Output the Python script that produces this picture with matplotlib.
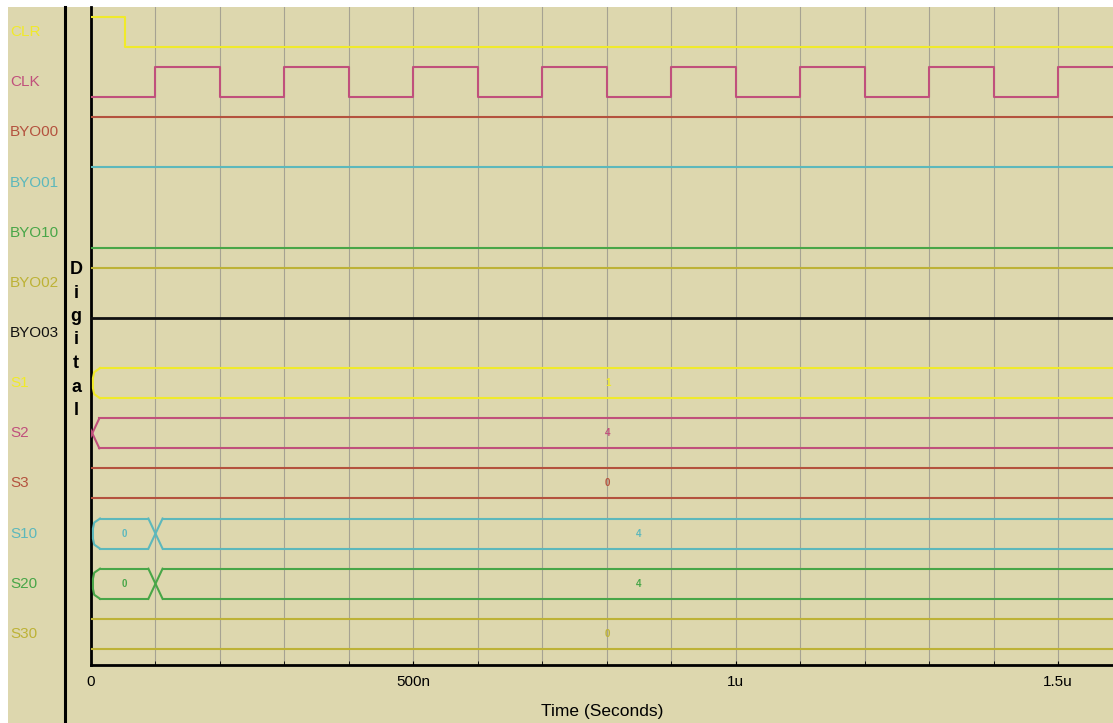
import matplotlib
matplotlib.use('Agg')
import matplotlib.pyplot as plt
import matplotlib.transforms as mtransforms
from matplotlib.patches import Rectangle
from matplotlib.lines import Line2D

# trace names, top to bottom, and their colours
signal_names = ['CLR', 'CLK', 'BYO00', 'BYO01', 'BYO10', 'BYO02', 'BYO03',
                'S1', 'S2', 'S3', 'S10', 'S20', 'S30']
signal_colors = ['#f0ea2a', '#c0507c', '#b4523e', '#5cb8bc', '#48a648', '#bdb236', '#111111',
                 '#f0ea2a', '#c0507c', '#b4523e', '#5cb8bc', '#48a648', '#bdb236']

sim_end_ns = 1600

# single-bit traces: times (ns) where the level changes, level after each change
clr_times = [0, 52]
clr_levels = [1, 0]
clk_times = [0, 100, 200, 300, 400, 500, 600, 700, 800, 900, 1000, 1100, 1200, 1300, 1400, 1500]
clk_levels = [0, 1, 0, 1, 0, 1, 0, 1, 0, 1, 0, 1, 0, 1, 0, 1]
byo00_times, byo00_levels = [0], [1]
byo01_times, byo01_levels = [0], [1]
byo10_times, byo10_levels = [0], [0]
byo02_times, byo02_levels = [0], [1]
byo03_times, byo03_levels = [0], [1]

# bus traces: segment start times (ns), values shown, and how the first segment starts
s1_starts, s1_values, s1_cap = [3], ['1'], 'open'
s2_starts, s2_values, s2_cap = [2], ['4'], 'cross'
s3_starts, s3_values, s3_cap = [0], ['0'], 'plain'
s10_starts, s10_values, s10_cap = [3, 100], ['0', '4'], 'open'
s20_starts, s20_values, s20_cap = [3, 100], ['0', '4'], 'open'
s30_starts, s30_values, s30_cap = [0], ['0'], 'plain'

bit_traces = [(clr_times, clr_levels), (clk_times, clk_levels),
              (byo00_times, byo00_levels), (byo01_times, byo01_levels),
              (byo10_times, byo10_levels), (byo02_times, byo02_levels),
              (byo03_times, byo03_levels)]
bus_traces = [(s1_starts, s1_values, s1_cap), (s2_starts, s2_values, s2_cap),
              (s3_starts, s3_values, s3_cap), (s10_starts, s10_values, s10_cap),
              (s20_starts, s20_values, s20_cap), (s30_starts, s30_values, s30_cap)]

BG = '#ddd7ae'
AMP = 0.3      # half height of a trace, in row units
HW = 11        # half width of a bus transition, ns
FONT = 'Liberation Sans'

fig = plt.figure(figsize=(11.13, 7.23), dpi=100)
W, H = 1113, 723
fig.patches.append(Rectangle((8 / W, 0), 1, 1 - 7 / H, transform=fig.transFigure,
                             facecolor=BG, edgecolor='none', zorder=-5))
fig.lines.append(Line2D([65 / W, 65 / W], [0, 1 - 7 / H], transform=fig.transFigure,
                        color='black', lw=2.2, zorder=1))

ax = fig.add_axes([91 / W, (H - 665) / H, (W - 91) / W, (665 - 7) / H])
ax.patch.set_visible(False)
ax.set_xlim(0, 1585)
ax.set_ylim(12.62, -0.5)

# single-bit traces
for row, (times, levels) in enumerate(bit_traces):
    xs = list(times) + [sim_end_ns]
    ys = [row + (-AMP if lv else AMP) for lv in levels]
    ys = ys + [ys[-1]]
    lw = 2.0 if signal_names[row] == 'BYO03' else 1.5
    ax.step(xs, ys, where='post', color=signal_colors[row], lw=lw, zorder=3)

# bus traces
for k, (starts, values, cap) in enumerate(bus_traces):
    row = 7 + k
    c = signal_colors[row]
    ends = list(starts[1:]) + [sim_end_ns]
    for j, (s, e, v) in enumerate(zip(starts, ends, values)):
        x0 = s if (j == 0 and cap == 'plain') else s + HW
        x1 = e if j == len(starts) - 1 else e - HW
        ax.plot([x0, x1], [row - AMP, row - AMP], color=c, lw=1.5, zorder=3)
        ax.plot([x0, x1], [row + AMP, row + AMP], color=c, lw=1.5, zorder=3)
        if j == 0 and cap == 'open':
            ax.plot([s + HW, s + 2, s, s, s + 2, s + HW],
                    [row - AMP, row - 0.22, row - 0.1, row + 0.1, row + 0.22, row + AMP],
                    color=c, lw=1.5, zorder=3)
        if (j == 0 and cap == 'cross') or j > 0:
            ax.plot([s - HW, s + HW], [row - AMP, row + AMP], color=c, lw=1.5, zorder=3)
            ax.plot([s - HW, s + HW], [row + AMP, row - AMP], color=c, lw=1.5, zorder=3)
        ax.text((s + e) / 2, row, v, color=c, fontsize=7, ha='center', va='center',
                fontweight='bold', family=FONT, zorder=4)

# row names on the left
trans = mtransforms.blended_transform_factory(fig.transFigure, ax.transData)
for row, name in enumerate(signal_names):
    ax.text(10 / W, row, name, transform=trans, color=signal_colors[row],
            fontsize=11, family=FONT, ha='left', va='center', clip_on=False)

fig.text(76 / W, 1 - 340 / H, '\n'.join('Digital'), fontsize=13, fontweight='bold',
         family=FONT, ha='center', va='center', linespacing=1.5)

# axes, grid and ticks
for side in ['top', 'right']:
    ax.spines[side].set_visible(False)
for side in ['left', 'bottom']:
    ax.spines[side].set_linewidth(2)
ax.set_yticks([])
ax.set_xticks([0, 500, 1000, 1500])
ax.set_xticklabels(['0', '500n', '1u', '1.5u'], family=FONT, fontsize=11)
ax.set_xticks(list(range(100, 1600, 100)), minor=True)
ax.tick_params(axis='x', which='both', direction='in', length=3, pad=7)
ax.grid(True, which='both', axis='x', color='#a6a292', lw=0.8, zorder=1)
ax.set_xlabel('Time (Seconds)', family=FONT, fontsize=12.5)
ax.xaxis.set_label_coords(0.5, -0.06)

fig.savefig('out.png', dpi=100, facecolor='white')
